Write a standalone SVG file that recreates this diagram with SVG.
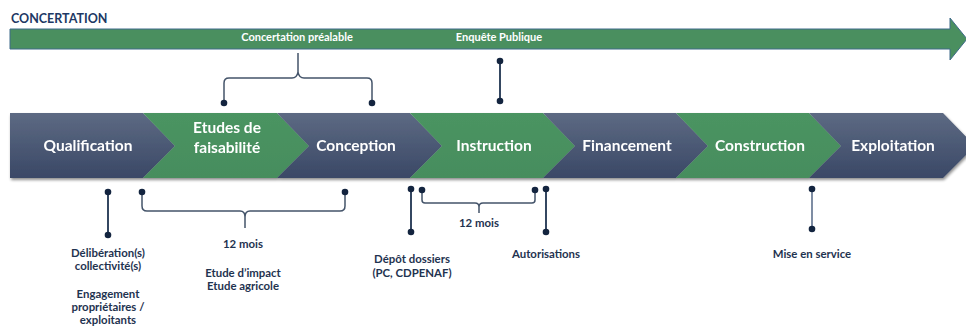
<svg xmlns="http://www.w3.org/2000/svg" width="966" height="329" viewBox="0 0 966 329">
<defs>
<linearGradient id="navy" x1="0" y1="0" x2="0" y2="1">
<stop offset="0" stop-color="#5d6a83"/>
<stop offset="1" stop-color="#3a4866"/>
</linearGradient>
<linearGradient id="green" x1="0" y1="0" x2="0" y2="1">
<stop offset="0" stop-color="#4b9462"/>
<stop offset="1" stop-color="#468d5d"/>
</linearGradient>
<filter id="sh" x="-5%" y="-20%" width="110%" height="150%">
<feGaussianBlur in="SourceAlpha" stdDeviation="1.5"/>
<feOffset dx="1" dy="2"/>
<feComponentTransfer><feFuncA type="linear" slope="0.45"/></feComponentTransfer>
<feMerge><feMergeNode/><feMergeNode in="SourceGraphic"/></feMerge>
</filter>
</defs>
<style>
.lbl{font-family:Lato,"Open Sans","Liberation Sans",sans-serif;font-weight:bold;fill:#ffffff;font-size:15.5px;text-anchor:middle}
.top{font-family:Lato,"Open Sans","Liberation Sans",sans-serif;font-weight:bold;fill:#ffffff;font-size:11px;text-anchor:middle}
.note{font-family:Lato,"Open Sans","Liberation Sans",sans-serif;font-weight:bold;fill:#1f3350;font-size:11.4px;text-anchor:middle}
.title{font-family:Lato,"Open Sans","Liberation Sans",sans-serif;font-weight:bold;fill:#203864;font-size:12.5px}
.ln{fill:none;stroke:#1f3350;stroke-width:1.8}
.br{fill:none;stroke:#44546a;stroke-width:1.5}
.dot{fill:#13243f}
.nv{fill:url(#navy)}
.gr{fill:url(#green)}
</style>
<text class="title" x="11" y="23">CONCERTATION</text>
<g id="concertation-arrow">
<polygon points="10,29 950,29 950,18 967,39 950,60 950,49 10,49" fill="#4a8f5f" stroke="#3f6a8a" stroke-width="1"/>
<text class="top" x="297" y="41">Concertation préalable</text>
<text class="top" x="499" y="41">Enquête Publique</text>
</g>
<g id="band" filter="url(#sh)">
<g id="qualification">
<polygon class="nv" points="10,113 143,113 175,146 143,178 10,178"/>
<text class="lbl" x="88" y="151">Qualification</text>
</g>
<g id="etudes">
<polygon class="gr" points="143,113 277,113 309,146 277,178 143,178 175,146"/>
<text class="lbl" x="227" y="133">Etudes de</text>
<text class="lbl" x="227" y="153">faisabilité</text>
</g>
<g id="conception">
<polygon class="nv" points="277,113 410,113 442,146 410,178 277,178 309,146"/>
<text class="lbl" x="356" y="151">Conception</text>
</g>
<g id="instruction">
<polygon class="gr" points="410,113 543,113 575,146 543,178 410,178 442,146"/>
<text class="lbl" x="494" y="151">Instruction</text>
</g>
<g id="financement">
<polygon class="nv" points="543,113 676,113 708,146 676,178 543,178 575,146"/>
<text class="lbl" x="627" y="151">Financement</text>
</g>
<g id="construction">
<polygon class="gr" points="676,113 809,113 841,146 809,178 676,178 708,146"/>
<text class="lbl" x="760" y="151">Construction</text>
</g>
<g id="exploitation">
<polygon class="nv" points="809,113 943,113 975,146 943,178 809,178 841,146"/>
<text class="lbl" x="893" y="151">Exploitation</text>
</g>
</g>
<g id="connectors">
<path class="br" d="M224,103 V83 Q224,78 229,78 H292 Q297,78 298,72 V53 M298,53 V72 Q299,78 304,78 H367 Q372,78 372,83 V103"/>
<circle class="dot" cx="224" cy="103" r="3.3"/>
<circle class="dot" cx="372" cy="103" r="3.3"/>
<line class="ln" x1="500" y1="61" x2="500" y2="101"/>
<circle class="dot" cx="500" cy="61" r="3.3"/>
<circle class="dot" cx="500" cy="101" r="3.3"/>
<line class="ln" x1="108" y1="192" x2="108" y2="235"/>
<circle class="dot" cx="108" cy="192" r="3.3"/>
<circle class="dot" cx="108" cy="235" r="3.3"/>
<path class="br" d="M142,192 V206 Q142,211 147,211 H240 Q245,211 245,217 V228 M245,228 V217 Q245,211 250,211 H340 Q345,211 345,206 V192"/>
<circle class="dot" cx="142" cy="192" r="3.3"/>
<circle class="dot" cx="345" cy="192" r="3.3"/>
<line class="ln" x1="411" y1="189" x2="411" y2="232"/>
<circle class="dot" cx="411" cy="189" r="3.3"/>
<circle class="dot" cx="411" cy="232" r="3.3"/>
<path class="br" d="M422,190 V200 Q422,203 425,203 H475 Q479,203 479,207 V213 M479,213 V207 Q479,203 483,203 H532 Q535,203 535,200 V190"/>
<circle class="dot" cx="422" cy="190" r="3.3"/>
<circle class="dot" cx="535" cy="190" r="3.3"/>
<line class="ln" x1="546" y1="189" x2="546" y2="232"/>
<circle class="dot" cx="546" cy="189" r="3.3"/>
<circle class="dot" cx="546" cy="232" r="3.3"/>
<line x1="812" y1="189" x2="812" y2="229" stroke="#71819a" stroke-width="1.8"/>
<circle class="dot" cx="812" cy="189" r="3.3"/>
<circle class="dot" cx="812" cy="229" r="3.3"/>
</g>
<g id="notes">
<text class="note" x="108" y="257">Délibération(s)</text>
<text class="note" x="108" y="270">collectivité(s)</text>
<text class="note" x="108" y="298">Engagement</text>
<text class="note" x="108" y="311">propriétaires /</text>
<text class="note" x="108" y="324">exploitants</text>
<text class="note" x="243" y="248">12 mois</text>
<text class="note" x="243" y="277">Etude d’impact</text>
<text class="note" x="243" y="290">Etude agricole</text>
<text class="note" x="412" y="263">Dépôt dossiers</text>
<text class="note" x="412" y="277">(PC, CDPENAF)</text>
<text class="note" x="479" y="227">12 mois</text>
<text class="note" x="546" y="258">Autorisations</text>
<text class="note" x="812" y="258">Mise en service</text>
</g>
</svg>
